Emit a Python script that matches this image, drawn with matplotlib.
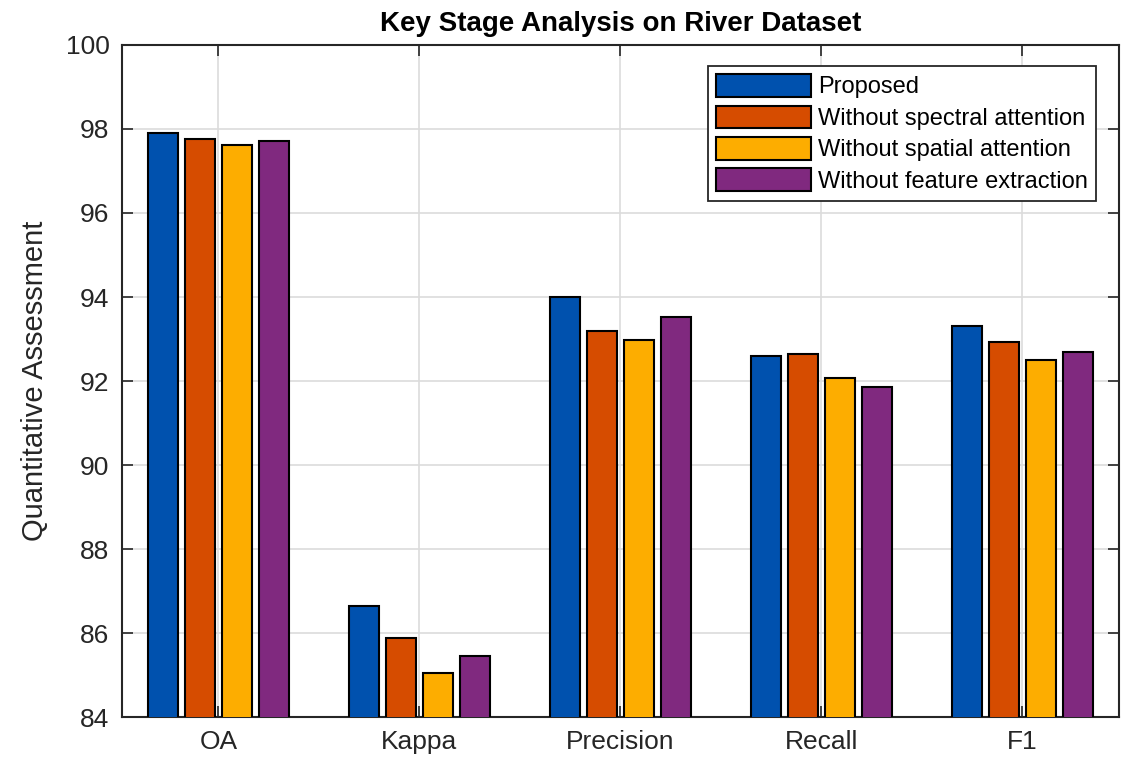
import numpy as np
import matplotlib
matplotlib.use("Agg")
import matplotlib.pyplot as plt

plt.rcParams['font.family'] = ['Liberation Sans', 'DejaVu Sans']

# metrics and ablation variants
metrics = ["OA", "Kappa", "Precision", "Recall", "F1"]
variants = ["Proposed",
            "Without spectral attention",
            "Without spatial attention",
            "Without feature extraction"]

proposed = [97.90, 86.64, 94.00, 92.60, 93.30]
no_spectral = [97.76, 85.89, 93.20, 92.64, 92.92]
no_spatial = [97.62, 85.04, 92.97, 92.08, 92.51]
no_feature = [97.71, 85.46, 93.52, 91.85, 92.68]

series = [proposed, no_spectral, no_spatial, no_feature]
colors = ["#0051AE", "#D64C00", "#FDAD00", "#80297F"]

fig = plt.figure(figsize=(11.23, 7.65), dpi=100)
ax = fig.add_axes([0.1086, 0.0627, 0.8878, 0.8785])

x = np.arange(1, len(metrics) + 1)
step = 0.184
width = 0.15
for i, (vals, c, name) in enumerate(zip(series, colors, variants)):
    ax.bar(x + (i - 1.5) * step, vals, width=width, color=c,
           edgecolor="black", linewidth=1.5, label=name, zorder=3)

ax.set_xlim(0.52, 5.48)
ax.set_ylim(84, 100)
ax.set_yticks(np.arange(84, 101, 2))
ax.set_xticks(x)
ax.set_xticklabels(metrics)

ax.grid(True, color="#dcdcdc", linewidth=1.2, zorder=0)
ax.tick_params(direction="in", length=8, width=1.2, top=True, right=True,
               labelsize=19, colors="#262626", pad=9)
for s in ax.spines.values():
    s.set_linewidth(1.5)
    s.set_color("#262626")

ax.set_ylabel("Quantitative Assessment", fontsize=21, color="#262626", labelpad=12)
ax.set_title("Key Stage Analysis on River Dataset", fontsize=20,
             fontweight="bold", pad=10)

leg = ax.legend(loc="upper right", bbox_to_anchor=(0.977, 0.969), fontsize=17,
                fancybox=False, edgecolor="#262626", framealpha=1,
                handlelength=4.0, handleheight=1.1, handletextpad=0.3,
                labelspacing=0.3, borderpad=0.35, borderaxespad=0)
leg.get_frame().set_linewidth(1.3)

fig.savefig("out.png", dpi=100)
